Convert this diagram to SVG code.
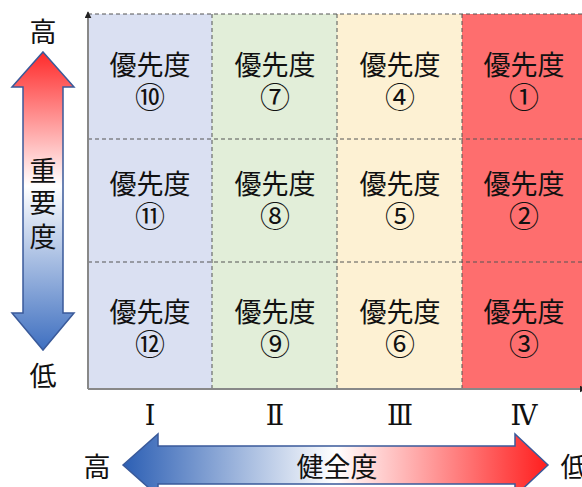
<svg xmlns="http://www.w3.org/2000/svg" width="582" height="487" viewBox="0 0 582 487">
<defs>
<linearGradient id="gv" x1="0" y1="0" x2="0" y2="1">
<stop offset="0" stop-color="#ff2a2a"/>
<stop offset="0.45" stop-color="#ffffff"/>
<stop offset="1" stop-color="#3e6fc0"/>
</linearGradient>
<linearGradient id="gh" x1="0" y1="0" x2="1" y2="0">
<stop offset="0" stop-color="#2c5fb4"/>
<stop offset="0.5" stop-color="#ffffff"/>
<stop offset="1" stop-color="#ff1e1e"/>
</linearGradient>
<marker id="ah" viewBox="0 0 10 10" refX="9" refY="5" markerWidth="7" markerHeight="7" orient="auto" markerUnits="userSpaceOnUse">
<path d="M0,0 L10,5 L0,10 Z" fill="#222"/>
</marker>
<style>
.t{font-family:"Liberation Serif","Noto Sans CJK JP",serif;fill:#111;text-anchor:middle}
.p{font-size:27px}
.n{font-size:30px}
.r{font-family:"DejaVu Serif","Liberation Serif",serif;font-size:27px;fill:#111;text-anchor:middle}
.d{stroke:#555;stroke-width:1;stroke-dasharray:4 3;fill:none}
</style>
</defs>
<g id="cells">
<rect x="88" y="14" width="124" height="375" fill="#dae0f2"/>
<rect x="212" y="14" width="125" height="375" fill="#e2eed9"/>
<rect x="337" y="14" width="125" height="375" fill="#fdf1d3"/>
<rect x="462" y="14" width="120" height="375" fill="#fe6e6e"/>
</g>
<g id="grid">
<line class="d" x1="88" y1="14" x2="582" y2="14"/>
<line class="d" x1="88" y1="139" x2="582" y2="139"/>
<line class="d" x1="88" y1="262" x2="582" y2="262"/>
<line class="d" x1="212" y1="14" x2="212" y2="389"/>
<line class="d" x1="337" y1="14" x2="337" y2="389"/>
<line class="d" x1="462" y1="14" x2="462" y2="389"/>
</g>
<g id="axes">
<line x1="88" y1="389" x2="88" y2="12" stroke="#888" stroke-width="2" marker-end="url(#ah)"/>
<line x1="88" y1="389" x2="586" y2="389" stroke="#888" stroke-width="2" marker-end="url(#ah)"/>
</g>
<g id="c10"><text class="t p" x="150" y="75">優先度</text><text class="t n" x="150" y="108">⑩</text></g>
<g id="c7"><text class="t p" x="275" y="75">優先度</text><text class="t n" x="275" y="108">⑦</text></g>
<g id="c4"><text class="t p" x="400" y="75">優先度</text><text class="t n" x="400" y="108">④</text></g>
<g id="c1"><text class="t p" x="524" y="75">優先度</text><text class="t n" x="524" y="108">①</text></g>
<g id="c11"><text class="t p" x="150" y="194">優先度</text><text class="t n" x="150" y="227">⑪</text></g>
<g id="c8"><text class="t p" x="275" y="194">優先度</text><text class="t n" x="275" y="227">⑧</text></g>
<g id="c5"><text class="t p" x="400" y="194">優先度</text><text class="t n" x="400" y="227">⑤</text></g>
<g id="c2"><text class="t p" x="524" y="194">優先度</text><text class="t n" x="524" y="227">②</text></g>
<g id="c12"><text class="t p" x="150" y="322">優先度</text><text class="t n" x="150" y="355">⑫</text></g>
<g id="c9"><text class="t p" x="275" y="322">優先度</text><text class="t n" x="275" y="355">⑨</text></g>
<g id="c6"><text class="t p" x="400" y="322">優先度</text><text class="t n" x="400" y="355">⑥</text></g>
<g id="c3"><text class="t p" x="524" y="322">優先度</text><text class="t n" x="524" y="355">③</text></g>
<g id="roman">
<text class="r" x="150" y="425">Ⅰ</text>
<text class="r" x="275" y="425">Ⅱ</text>
<text class="r" x="400" y="425">Ⅲ</text>
<text class="r" x="524" y="425">Ⅳ</text>
</g>
<g id="importance">
<path d="M43,52 L74,87 L63,87 L63,313 L74,313 L43,350 L12,313 L23,313 L23,87 L12,87 Z" fill="url(#gv)" stroke="#3a5a9a" stroke-width="1.5"/>
<text class="t p" x="43" y="181">重</text>
<text class="t p" x="43" y="213">要</text>
<text class="t p" x="43" y="247">度</text>
<text class="t p" x="43" y="42">高</text>
<text class="t p" x="43" y="386">低</text>
</g>
<g id="health">
<path d="M123,465 L158,434 L158,446 L515,446 L515,434 L548,465 L515,496 L515,484 L158,484 L158,496 Z" fill="url(#gh)" stroke="#3a5a9a" stroke-width="1.5"/>
<text class="t p" x="337" y="477">健全度</text>
<text class="t p" x="97" y="477">高</text>
<text class="t p" x="574" y="477">低</text>
</g>
</svg>
